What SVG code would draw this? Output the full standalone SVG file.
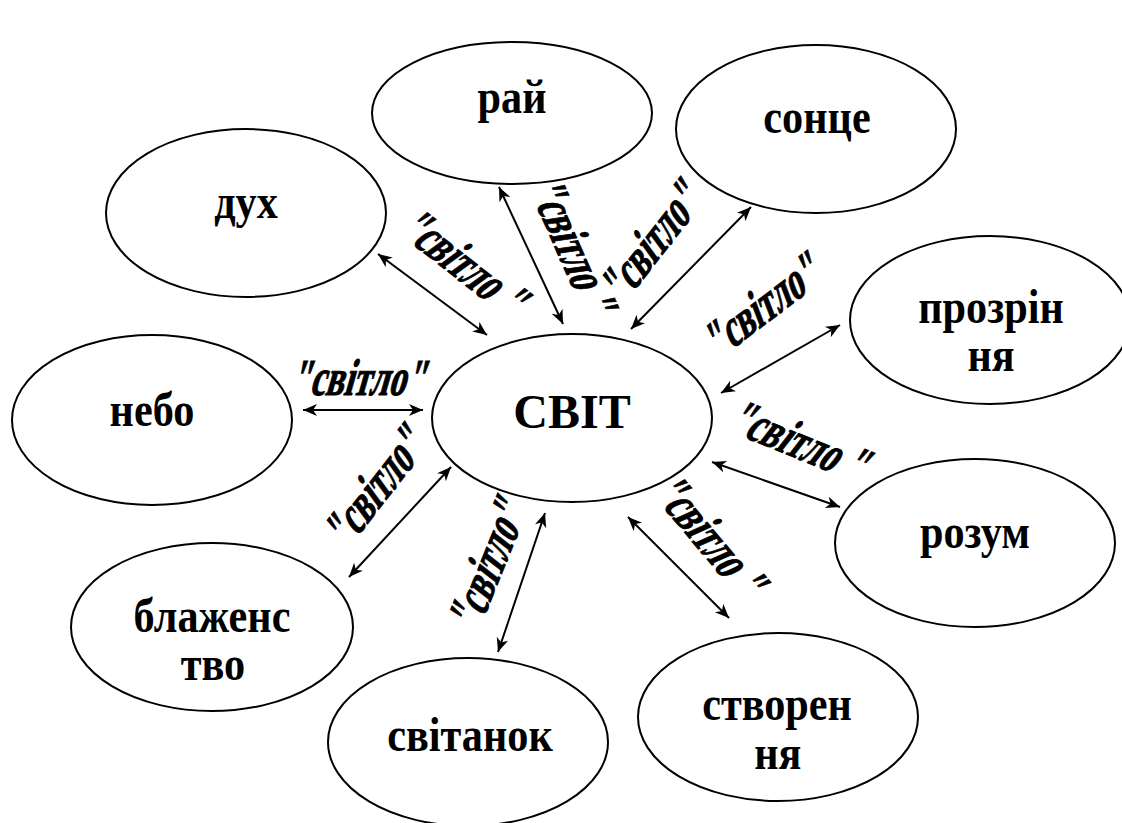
<svg xmlns="http://www.w3.org/2000/svg" width="1122" height="823" viewBox="0 0 1122 823">
<style>
.node ellipse{fill:#fff;stroke:#000;stroke-width:2}
.node text{font-family:"Liberation Serif","Times New Roman",serif;font-weight:bold;font-size:48px;text-anchor:middle;fill:#000}
.conn line{stroke:#000;stroke-width:2;marker-start:url(#ah);marker-end:url(#ah)}
.lbl{font-family:"Liberation Serif","Times New Roman",serif;font-weight:bold;font-size:52px;text-anchor:middle;fill:#000;stroke:#000;stroke-width:1}
</style>
<defs>
<marker id="ah" markerUnits="userSpaceOnUse" markerWidth="16" markerHeight="14" refX="14" refY="6" orient="auto-start-reverse">
<path d="M0,0 L14,6 L0,12 L4,6 z" fill="#000"/>
</marker>
</defs>
<rect width="1122" height="823" fill="#fff"/>
<g id="connectors" class="conn">
<line x1="378" y1="254" x2="487" y2="335"/>
<line x1="499" y1="187" x2="563" y2="324"/>
<line x1="751" y1="207" x2="631" y2="329"/>
<line x1="840" y1="325" x2="721" y2="393"/>
<line x1="303" y1="410" x2="423" y2="410"/>
<line x1="712" y1="462" x2="840" y2="507"/>
<line x1="628" y1="517" x2="729" y2="618"/>
<line x1="545" y1="513" x2="498" y2="652"/>
<line x1="451" y1="467" x2="349" y2="577"/>
</g>
<g id="labels">
<text class="lbl" transform="translate(461,268) rotate(38) skewX(-16) scale(0.66,1)" y="11">"світло "</text>
<text class="lbl" transform="translate(568,250) rotate(66) skewX(-16) scale(0.66,1)" y="11">"світло "</text>
<text class="lbl" transform="translate(656,245) rotate(-52) skewX(-16) scale(0.66,1)" y="11">"світло"</text>
<text class="lbl" transform="translate(766,310) rotate(-37) skewX(-16) scale(0.66,1)" y="11">"світло"</text>
<text class="lbl" transform="translate(360,384) skewX(-16) scale(0.66,1)" y="11">"світло"</text>
<text class="lbl" transform="translate(798,447) rotate(22) skewX(-16) scale(0.66,1)" y="11">"світло "</text>
<text class="lbl" transform="translate(706,541) rotate(50) skewX(-16) scale(0.66,1)" y="11">"світло "</text>
<text class="lbl" transform="translate(493,566) rotate(-68) skewX(-16) scale(0.66,1)" y="11">"світло"</text>
<text class="lbl" transform="translate(380,490) rotate(-52) skewX(-16) scale(0.66,1)" y="11">"світло"</text>
</g>
<g id="node-svit" class="node">
<ellipse cx="572" cy="418" rx="140" ry="84"/>
<text x="572" y="428">СВІТ</text>
</g>
<g id="node-rai" class="node">
<ellipse cx="512" cy="113" rx="140" ry="71"/>
<text transform="translate(512,113) scale(0.88,1)">рай</text>
</g>
<g id="node-sontse" class="node">
<ellipse cx="816" cy="129" rx="140" ry="84"/>
<text transform="translate(817,133) scale(0.88,1)">сонце</text>
</g>
<g id="node-dukh" class="node">
<ellipse cx="246" cy="213" rx="140" ry="84"/>
<text transform="translate(246,218) scale(0.88,1)">дух</text>
</g>
<g id="node-prozrinnia" class="node">
<ellipse cx="990" cy="320" rx="140" ry="84"/>
<text transform="translate(991,323) scale(0.88,1)"><tspan x="0" y="0">прозрін</tspan><tspan x="0" y="48">ня</tspan></text>
</g>
<g id="node-nebo" class="node">
<ellipse cx="152" cy="420" rx="140" ry="85"/>
<text transform="translate(152,426) scale(0.88,1)">небо</text>
</g>
<g id="node-rozum" class="node">
<ellipse cx="975" cy="543" rx="140" ry="84"/>
<text transform="translate(975,548) scale(0.88,1)">розум</text>
</g>
<g id="node-blazhenstvo" class="node">
<ellipse cx="212" cy="627" rx="141" ry="84"/>
<text transform="translate(212,632) scale(0.88,1)"><tspan x="0" y="0">блаженс</tspan><tspan x="1" y="48">тво</tspan></text>
</g>
<g id="node-svitanok" class="node">
<ellipse cx="468" cy="742" rx="140" ry="84"/>
<text transform="translate(470,751) scale(0.88,1)">світанок</text>
</g>
<g id="node-stvorennia" class="node">
<ellipse cx="778" cy="717" rx="140" ry="84"/>
<text transform="translate(777,720) scale(0.88,1)"><tspan x="0" y="0">створен</tspan><tspan x="1" y="49">ня</tspan></text>
</g>
</svg>
